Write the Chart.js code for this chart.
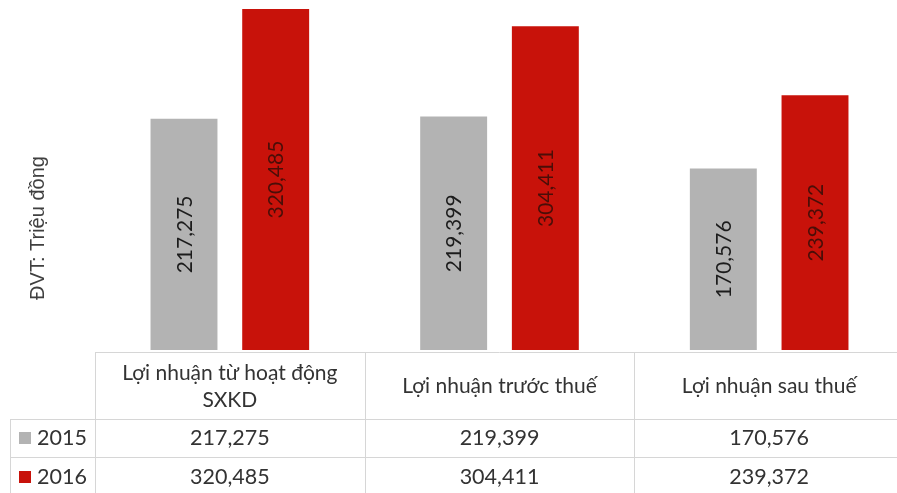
<!DOCTYPE html>
<html>
<head>
<meta charset="utf-8">
<script src="https://cdn.jsdelivr.net/npm/chart.js@4/dist/chart.umd.min.js"></script>
<style>
html,body{margin:0;padding:0;background:#fff;overflow:hidden;width:897px;height:493px;}
canvas{display:block;}
</style>
</head>
<body>
<canvas id="c" width="904" height="493"></canvas>
<script>
const categories = [["Lợi nhuận từ hoạt động", "SXKD"], "Lợi nhuận trước thuế", "Lợi nhuận sau thuế"];
const seriesNames = ["2015", "2016"];
const values2015 = [217275, 219399, 170576];
const values2016 = [320485, 304411, 239372];
const unitLabel = "ĐVT: Triệu đồng";

const colors = ["#b3b3b3", "#c8120a"];
const labelColors = ["#1c1c1c", "#4a0e08"];
const fmt = v => v.toLocaleString('en-US');

const tablePlugin = {
  id: 'tablePlugin',
  afterDatasetsDraw(chart) {
    const ctx = chart.ctx;
    const x = chart.scales.x;
    const area = chart.chartArea;
    const n = categories.length;
    const w = (area.right - area.left) / n;

    // rotated value labels
    chart.data.datasets.forEach((ds, di) => {
      const meta = chart.getDatasetMeta(di);
      meta.data.forEach((bar, i) => {
        const cy = (bar.y + bar.base) / 2;
        ctx.save();
        ctx.translate(bar.x, cy);
        ctx.rotate(-Math.PI / 2);
        ctx.font = '21px Lato';
        ctx.fillStyle = labelColors[di];
        ctx.textAlign = 'center';
        ctx.textBaseline = 'middle';
        ctx.fillText(fmt(ds.data[i]), 0, 1);
        ctx.restore();
      });
    });

    // y title
    ctx.save();
    ctx.translate(38, 228);
    ctx.rotate(-Math.PI / 2);
    ctx.font = '20px "Liberation Sans"';
    ctx.fillStyle = '#404040';
    ctx.textAlign = 'center';
    ctx.textBaseline = 'middle';
    ctx.fillText(unitLabel, 0, 0);
    ctx.restore();

    // table grid
    const top = area.bottom + 2;
    const r1 = 419, r2 = 457, bottom = 493;
    ctx.save();
    ctx.strokeStyle = '#d6d6d6';
    ctx.lineWidth = 1;
    const line = (x1, y1, x2, y2) => { ctx.beginPath(); ctx.moveTo(x1, y1); ctx.lineTo(x2, y2); ctx.stroke(); };
    line(area.left, top + 0.5, area.right, top + 0.5);
    line(10, r1 + 0.5, area.right, r1 + 0.5);
    line(10, r2 + 0.5, area.right, r2 + 0.5);
    line(10.5, r1, 10.5, bottom);
    for (let i = 0; i < n; i++) {
      const xl = Math.round(area.left + i * w) + 0.5;
      line(xl, top, xl, bottom);
    }
    ctx.restore();

    // header texts
    ctx.save();
    ctx.fillStyle = '#333333';
    ctx.textAlign = 'center';
    ctx.textBaseline = 'middle';
    ctx.font = '21px Lato';
    categories.forEach((c, i) => {
      const cx = x.getPixelForValue(i);
      if (Array.isArray(c)) {
        ctx.fillText(c[0], cx, 373);
        ctx.fillText(c[1], cx, 400);
      } else {
        ctx.fillText(c, cx, 386);
      }
    });
    // rows
    const rows = [values2015, values2016];
    const rowY = [438, 477];
    ctx.font = '21.5px Lato';
    rows.forEach((vals, ri) => {
      vals.forEach((v, i) => {
        ctx.fillText(fmt(v), x.getPixelForValue(i), rowY[ri]);
      });
      // legend
      ctx.fillStyle = colors[ri];
      ctx.fillRect(19, rowY[ri] - 6, 12, 12);
      ctx.fillStyle = '#333333';
      ctx.textAlign = 'left';
      ctx.fillText(seriesNames[ri], 37, rowY[ri]);
      ctx.textAlign = 'center';
    });
    ctx.restore();
  }
};

new Chart(document.getElementById('c'), {
  type: 'bar',
  data: {
    labels: categories,
    datasets: [
      { label: seriesNames[0], data: values2015, backgroundColor: colors[0], categoryPercentage: 0.68, barPercentage: 0.73 },
      { label: seriesNames[1], data: values2016, backgroundColor: colors[1], categoryPercentage: 0.68, barPercentage: 0.73 }
    ]
  },
  options: {
    responsive: false,
    animation: false,
    layout: { padding: { left: 95, right: 0, top: 0, bottom: 143 } },
    plugins: { legend: { display: false }, tooltip: { enabled: false }, title: { display: false } },
    scales: {
      x: { display: false },
      y: { display: false, min: 0, max: 329000 }
    }
  },
  plugins: [tablePlugin]
});
</script>
</body>
</html>
